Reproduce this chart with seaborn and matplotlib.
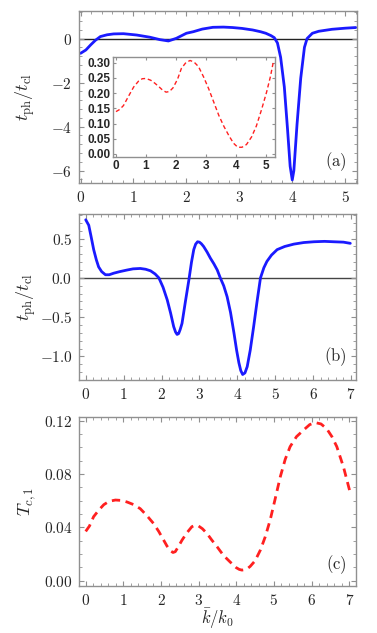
import matplotlib
matplotlib.use('Agg')
import matplotlib.pyplot as plt
import seaborn as sns
import pandas as pd
from matplotlib.ticker import AutoMinorLocator, FuncFormatter

# panel (a): t_ph / t_cl
ka = [0.0, 0.1, 0.19, 0.28, 0.375, 0.5, 0.625, 0.81, 1.06, 1.31, 1.5, 1.66, 1.81, 2.0, 2.13,
      2.3, 2.5, 2.7, 2.87, 3.05, 3.25, 3.4, 3.5, 3.6, 3.66, 3.72, 3.78, 3.85, 3.91, 3.96,
      4.0, 4.03, 4.09, 4.16, 4.23, 4.28, 4.38, 4.5, 4.75, 5.0, 5.2]
ta = [-0.67, -0.52, -0.29, -0.08, 0.09, 0.17, 0.21, 0.22, 0.16, 0.06, -0.05, -0.11, 0.01, 0.24, 0.31,
      0.43, 0.51, 0.52, 0.5, 0.46, 0.39, 0.31, 0.24, 0.13, 0.04, -0.2, -0.85, -2.2, -4.1, -5.8,
      -6.42, -6.0, -3.9, -1.8, -0.4, 0.0, 0.24, 0.33, 0.42, 0.47, 0.5]

# inset of (a)
ki = [0.0, 0.12, 0.25, 0.42, 0.59, 0.75, 0.875, 1.0, 1.16, 1.3, 1.44, 1.56, 1.67, 1.78, 1.9,
      2.05, 2.18, 2.33, 2.47, 2.6, 2.75, 2.92, 3.09, 3.26, 3.43, 3.6, 3.77, 3.92, 4.06, 4.2,
      4.35, 4.52, 4.68, 4.85, 5.02, 5.15, 5.25]
Ti = [0.139, 0.146, 0.159, 0.19, 0.22, 0.239, 0.247, 0.248, 0.242, 0.232, 0.22, 0.209, 0.203, 0.205, 0.217,
      0.245, 0.281, 0.3, 0.307, 0.302, 0.287, 0.253, 0.214, 0.17, 0.126, 0.09, 0.059, 0.035, 0.022, 0.022,
      0.031, 0.056, 0.092, 0.145, 0.203, 0.255, 0.305]

# panel (b)
kb = [0.0, 0.08, 0.14, 0.21, 0.28, 0.34, 0.42, 0.52, 0.62, 0.74, 0.9, 1.09, 1.25, 1.44, 1.58,
      1.71, 1.83, 1.93, 2.04, 2.15, 2.24, 2.32, 2.37, 2.41, 2.45, 2.49, 2.54, 2.63, 2.72, 2.79,
      2.85, 2.9, 2.95, 3.0, 3.05, 3.11, 3.2, 3.29, 3.38, 3.47, 3.55, 3.64, 3.73, 3.82, 3.91,
      3.98, 4.04, 4.09, 4.14, 4.2, 4.26, 4.34, 4.43, 4.52, 4.61, 4.7, 4.78, 4.9, 5.05, 5.25,
      5.49, 5.75, 6.02, 6.3, 6.54, 6.8, 6.98]
tb = [0.74, 0.67, 0.53, 0.36, 0.23, 0.14, 0.08, 0.04, 0.04, 0.06, 0.08, 0.1, 0.115, 0.12, 0.11,
      0.09, 0.05, 0.0, -0.12, -0.28, -0.45, -0.62, -0.69, -0.72, -0.71, -0.66, -0.58, -0.3, -0.03, 0.2,
      0.36, 0.43, 0.46, 0.455, 0.435, 0.4, 0.33, 0.25, 0.18, 0.1, 0.0, -0.1, -0.24, -0.44, -0.7,
      -0.92, -1.08, -1.18, -1.23, -1.21, -1.13, -0.92, -0.62, -0.3, 0.0, 0.13, 0.21, 0.29, 0.36, 0.4,
      0.43, 0.45, 0.46, 0.465, 0.46, 0.455, 0.44]

# panel (c)
kc = [0.0, 0.1, 0.21, 0.35, 0.48, 0.62, 0.79, 0.95, 1.1, 1.28, 1.45, 1.62, 1.8, 1.94, 2.07,
      2.16, 2.25, 2.32, 2.38, 2.47, 2.56, 2.69, 2.82, 2.9, 3.0, 3.1, 3.22, 3.35, 3.49, 3.66,
      3.84, 4.0, 4.08, 4.15, 4.22, 4.3, 4.37, 4.5, 4.64, 4.77, 4.9, 5.03, 5.17, 5.3, 5.43,
      5.6, 5.79, 5.95, 6.1, 6.25, 6.4, 6.54, 6.67, 6.85, 7.03]
Tc = [0.037, 0.041, 0.048, 0.053, 0.057, 0.0595, 0.0605, 0.0602, 0.059, 0.057, 0.054, 0.049, 0.043, 0.037, 0.0305,
      0.026, 0.0225, 0.0212, 0.0218, 0.026, 0.0305, 0.036, 0.0405, 0.0415, 0.041, 0.039, 0.0355, 0.0305, 0.0255, 0.019,
      0.014, 0.0098, 0.0085, 0.008, 0.0083, 0.0092, 0.0108, 0.015, 0.023, 0.033, 0.0455, 0.061, 0.078, 0.091, 0.1005,
      0.108, 0.113, 0.117, 0.1185, 0.1175, 0.114, 0.108, 0.1005, 0.085, 0.0655]

sns.set_style('ticks')
plt.rcParams['font.family'] = ['DejaVu Serif']
plt.rcParams['mathtext.fontset'] = 'cm'

fig = plt.figure(figsize=(3.77, 6.33), dpi=100)
ax1 = fig.add_axes([0.2095, 0.7109, 0.737, 0.2717])
ax2 = fig.add_axes([0.2103, 0.3997, 0.734, 0.2618])
ax3 = fig.add_axes([0.2103, 0.0747, 0.734, 0.2661])
axi = fig.add_axes([0.3005, 0.7515, 0.4297, 0.158])

blue = '#1a1aff'
red = '#ff2020'
frame = '#909090'

mfmt = FuncFormatter(lambda v, p: '$%s$' % ('%g' % v if abs(v) > 1e-9 else '0'))


def style(ax, fmt_y):
    for s in ax.spines.values():
        s.set_color(frame)
        s.set_linewidth(1.0)
    ax.tick_params(which='both', direction='in', top=True, right=True, color=frame, labelsize=11, pad=5)
    ax.tick_params(which='major', length=3.5)
    ax.tick_params(which='minor', length=2)
    ax.xaxis.set_minor_locator(AutoMinorLocator(5))
    ax.yaxis.set_minor_locator(AutoMinorLocator(5))
    ax.xaxis.set_major_formatter(mfmt)
    ax.yaxis.set_major_formatter(fmt_y)


# (a)
sns.lineplot(data=pd.DataFrame({'k': ka, 't': ta}), x='k', y='t', ax=ax1, color=blue, lw=2, sort=False)
ax1.axhline(0, color='#222222', lw=1, zorder=0)
ax1.set_xlim(-0.03, 5.22)
ax1.set_ylim(-6.56, 1.25)
ax1.set_xticks([0, 1, 2, 3, 4, 5])
ax1.set_yticks([0, -2, -4, -6])
style(ax1, FuncFormatter(lambda v, p: '$%d$' % v))
ax1.set_xlabel('')
ax1.set_ylabel(r'$t_{\rm ph}/t_{\rm cl}$', fontsize=13)
ax1.yaxis.set_label_coords(-0.15, 0.5)
ax1.text(0.965, 0.06, r'$\mathrm{(a)}$', transform=ax1.transAxes, ha='right', va='bottom', fontsize=12)

# inset
sns.lineplot(data=pd.DataFrame({'k': ki, 'T': Ti}), x='k', y='T', ax=axi, color=red, lw=1,
             linestyle=(0, (3, 2)), sort=False)
axi.set_xlim(-0.09, 5.31)
axi.set_ylim(-0.011, 0.3175)
axi.set_xticks([0, 1, 2, 3, 4, 5])
axi.set_yticks([0.0, 0.05, 0.1, 0.15, 0.2, 0.25, 0.3])
for s in axi.spines.values():
    s.set_color(frame)
    s.set_linewidth(1.0)
axi.tick_params(which='both', direction='in', top=True, right=True, color=frame, length=2, labelsize=8.5, pad=2)
axi.yaxis.set_major_formatter(FuncFormatter(lambda v, p: '%.2f' % v))
axi.set_xlabel('')
axi.set_ylabel('')
for lab in axi.get_xticklabels() + axi.get_yticklabels():
    lab.set_family(['Liberation Sans', 'DejaVu Sans'])
    lab.set_fontweight('bold')

# (b)
sns.lineplot(data=pd.DataFrame({'k': kb, 't': tb}), x='k', y='t', ax=ax2, color=blue, lw=2, sort=False)
ax2.axhline(0, color='#444444', lw=1, zorder=0)
ax2.set_xlim(-0.17, 7.13)
ax2.set_ylim(-1.30, 0.81)
ax2.set_xticks(range(8))
ax2.set_yticks([0.5, 0.0, -0.5, -1.0])
style(ax2, FuncFormatter(lambda v, p: '$%.1f$' % v))
ax2.set_xlabel('')
ax2.set_ylabel(r'$t_{\rm ph}/t_{\rm cl}$', fontsize=13)
ax2.yaxis.set_label_coords(-0.15, 0.5)
ax2.text(0.965, 0.07, r'$\mathrm{(b)}$', transform=ax2.transAxes, ha='right', va='bottom', fontsize=12)

# (c)
sns.lineplot(data=pd.DataFrame({'k': kc, 'T': Tc}), x='k', y='T', ax=ax3, color=red, lw=2,
             linestyle=(0, (3, 2)), sort=False)
ax3.set_xlim(-0.17, 7.18)
ax3.set_ylim(-0.0037, 0.1225)
ax3.set_xticks(range(8))
ax3.set_yticks([0.0, 0.04, 0.08, 0.12])
style(ax3, FuncFormatter(lambda v, p: '$%.2f$' % v))
ax3.yaxis.set_minor_locator(AutoMinorLocator(4))
ax3.set_xlabel(r'$\bar{k}/k_0$', fontsize=12)
ax3.xaxis.set_label_coords(0.5, -0.125)
ax3.set_ylabel(r'$T_{c,1}$', fontsize=13)
ax3.yaxis.set_label_coords(-0.15, 0.5)
ax3.text(0.965, 0.06, r'$\mathrm{(c)}$', transform=ax3.transAxes, ha='right', va='bottom', fontsize=12)

fig.savefig('out.png', dpi=100)
